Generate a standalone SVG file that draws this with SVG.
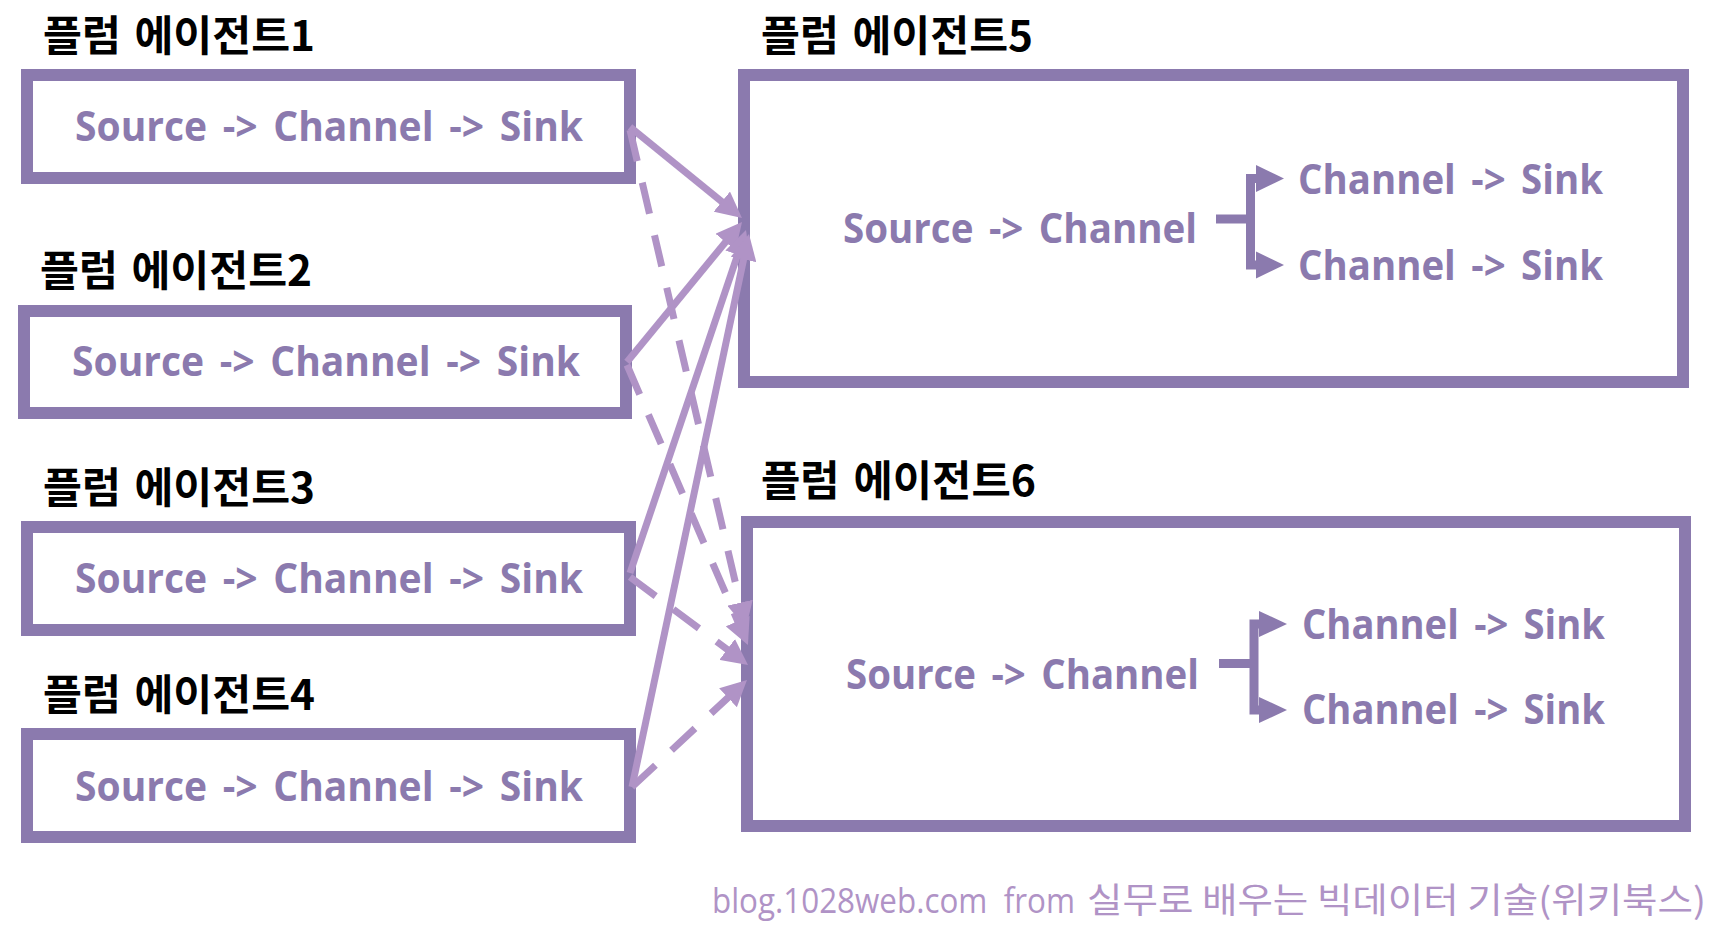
<svg xmlns="http://www.w3.org/2000/svg" width="1711" height="935" viewBox="0 0 1711 935">
<style>
.box{fill:#fff;stroke:#8b7aae;stroke-width:12}
.title{font-family:"Noto Sans CJK KR","Noto Sans",sans-serif;font-weight:700;font-size:42px;word-spacing:4px;fill:#000}
.t{font-family:"Open Sans","Noto Sans",sans-serif;font-weight:700;font-size:42px;word-spacing:6px;fill:#8b7aae}
.sol{fill:none;stroke:#b093c6;stroke-width:7;marker-end:url(#ah)}
.dash{fill:none;stroke:#b093c6;stroke-width:7;stroke-dasharray:32 22;marker-end:url(#ah)}
.br{fill:none;stroke:#8b7aae;stroke-width:9}
.brh{fill:#8b7aae}
.foot{font-family:"Open Sans","Noto Sans","Noto Sans CJK KR",sans-serif;font-size:34px;fill:#b093c6}
.footk{font-family:"Noto Sans CJK KR","Noto Sans",sans-serif;font-size:35px;font-weight:400;fill:#b093c6}
</style>
<defs>
<marker id="ah" markerUnits="userSpaceOnUse" markerWidth="26" markerHeight="26" refX="16" refY="13" orient="auto" viewBox="0 0 26 26">
<path d="M0,0 L26,13 L0,26 Z" fill="#b093c6"/>
</marker>
</defs>
<rect width="1711" height="935" fill="#fff"/>

<g id="agent1">
<text class="title" x="43" y="51" textLength="272" lengthAdjust="spacingAndGlyphs">플럼 에이전트1</text>
<rect class="box" x="27" y="75" width="603" height="103"/>
<text class="t" x="75" y="141" textLength="508" lengthAdjust="spacingAndGlyphs">Source -&gt; Channel -&gt; Sink</text>
</g>
<g id="agent2">
<text class="title" x="40" y="286" textLength="272" lengthAdjust="spacingAndGlyphs">플럼 에이전트2</text>
<rect class="box" x="24" y="311" width="602" height="102"/>
<text class="t" x="72" y="376" textLength="508" lengthAdjust="spacingAndGlyphs">Source -&gt; Channel -&gt; Sink</text>
</g>
<g id="agent3">
<text class="title" x="43" y="503" textLength="272" lengthAdjust="spacingAndGlyphs">플럼 에이전트3</text>
<rect class="box" x="27" y="527" width="603" height="103"/>
<text class="t" x="75" y="593" textLength="508" lengthAdjust="spacingAndGlyphs">Source -&gt; Channel -&gt; Sink</text>
</g>
<g id="agent4">
<text class="title" x="43" y="710" textLength="272" lengthAdjust="spacingAndGlyphs">플럼 에이전트4</text>
<rect class="box" x="27" y="734" width="603" height="103"/>
<text class="t" x="75" y="801" textLength="508" lengthAdjust="spacingAndGlyphs">Source -&gt; Channel -&gt; Sink</text>
</g>

<g id="agent5">
<text class="title" x="761" y="51" textLength="272" lengthAdjust="spacingAndGlyphs">플럼 에이전트5</text>
<rect class="box" x="744" y="75" width="939" height="307"/>
<text class="t" x="843" y="243" textLength="354" lengthAdjust="spacingAndGlyphs">Source -&gt; Channel</text>
<path class="br" d="M1216,219 H1250.5"/>
<path class="br" d="M1258,178.5 H1250.5 V265 H1258"/>
<path class="brh" d="M1256,165 L1284,178.5 L1256,192 Z"/>
<path class="brh" d="M1256,251.5 L1284,265 L1256,278.5 Z"/>
<text class="t" x="1298" y="194" textLength="305" lengthAdjust="spacingAndGlyphs">Channel -&gt; Sink</text>
<text class="t" x="1298" y="280" textLength="305" lengthAdjust="spacingAndGlyphs">Channel -&gt; Sink</text>
</g>

<g id="agent6">
<text class="title" x="761" y="496" textLength="275" lengthAdjust="spacingAndGlyphs">플럼 에이전트6</text>
<rect class="box" x="747" y="522" width="938" height="304"/>
<text class="t" x="846" y="689" textLength="353" lengthAdjust="spacingAndGlyphs">Source -&gt; Channel</text>
<path class="br" d="M1219,663.5 H1254"/>
<path class="br" d="M1261,624 H1254 V710 H1261"/>
<path class="brh" d="M1259,611 L1287,624 L1259,637 Z"/>
<path class="brh" d="M1259,697 L1287,710 L1259,723 Z"/>
<text class="t" x="1302" y="639" textLength="303" lengthAdjust="spacingAndGlyphs">Channel -&gt; Sink</text>
<text class="t" x="1302" y="724" textLength="303" lengthAdjust="spacingAndGlyphs">Channel -&gt; Sink</text>
</g>

<g id="connectors">
<path class="sol" d="M630,127 L734.2,211.7"/>
<path class="sol" d="M627,362 L735.7,229.7"/>
<path class="sol" d="M630,573 L742.8,239.5"/>
<path class="sol" d="M632,787 L746.9,243.8"/>
<path class="dash" d="M630,130 L743.7,618.3"/>
<path class="dash" d="M627,365 L744,635.8"/>
<path class="dash" d="M630,577 L740,659"/>
<path class="dash" d="M632,787 L739.7,686.8"/>
</g>

<g id="footer">
<text class="foot" x="712" y="913" textLength="363" lengthAdjust="spacingAndGlyphs">blog.1028web.com&#160; from</text>
<text class="footk" x="1087" y="913" textLength="619" lengthAdjust="spacingAndGlyphs">실무로 배우는 빅데이터 기술(위키북스)</text>
</g>
</svg>
